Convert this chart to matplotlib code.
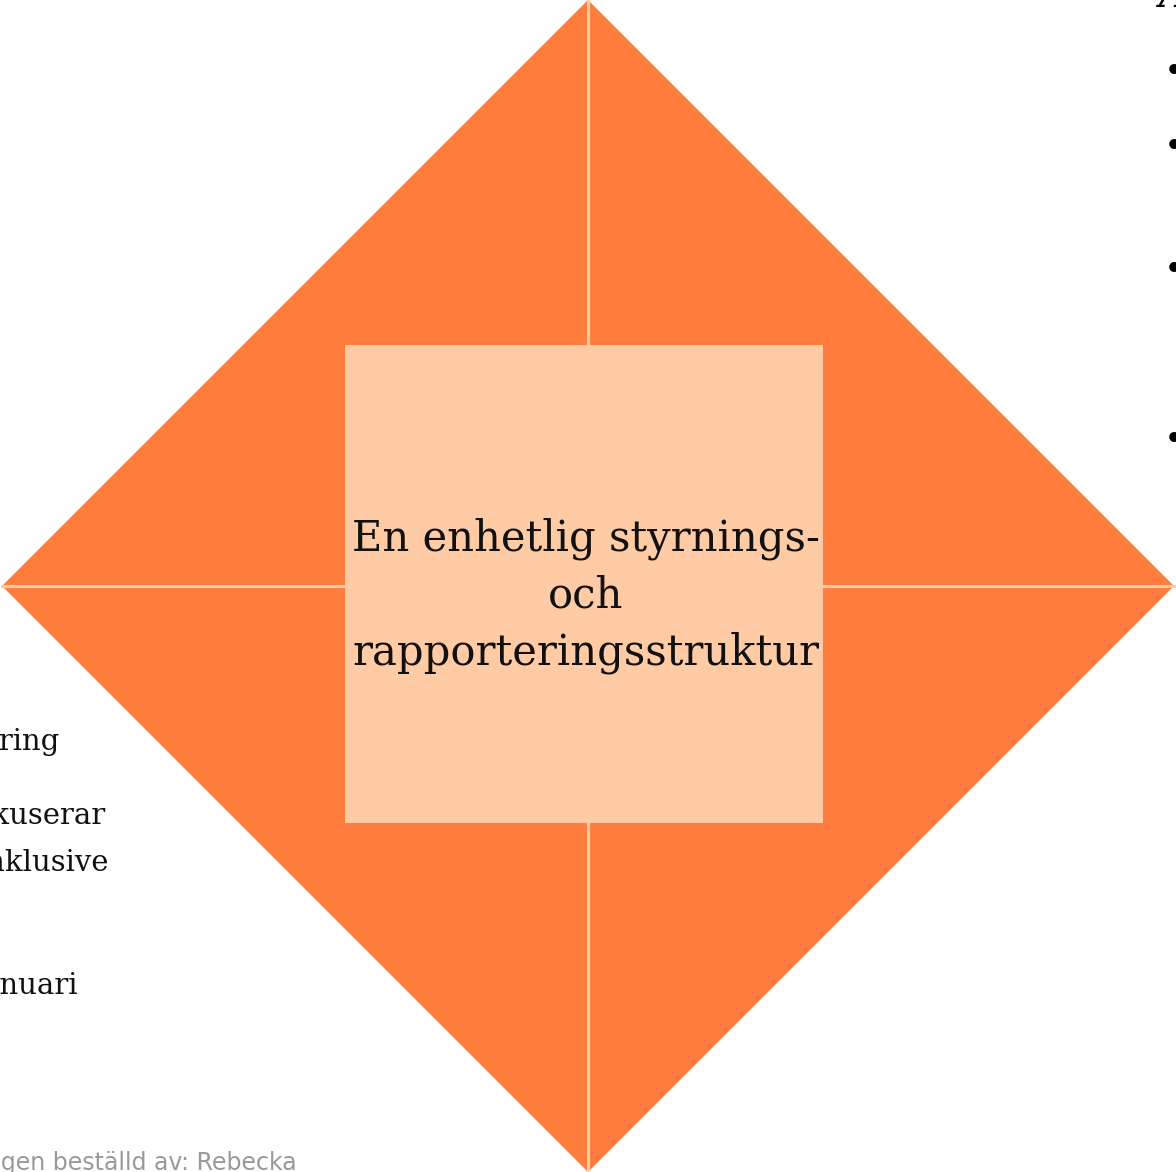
import matplotlib.pyplot as plt
from matplotlib.patches import Polygon, Rectangle

# diagram content
center_lines = ["En enhetlig styrnings-", "och", "rapporteringsstruktur"]
left_words = ["Rapportering", "fokuserar", "inklusive", "januari"]
left_word_end = [60, 105, 108, 78]
left_word_y = [742, 816, 863, 986]
bullet_y = [72, 147, 270, 440]
footer = "Utredningen beställd av: Rebecka"

orange = "#FE7D3D"
peach = "#FFCBA4"
line_col = "#FFC9A2"

W, H = 1176, 1172
fig = plt.figure(figsize=(W / 100, H / 100), dpi=100)
ax = fig.add_axes([0, 0, 1, 1])
ax.set_xlim(0, W)
ax.set_ylim(H, 0)
ax.axis("off")

# diamond geometry
cx, cy = 588, 586
rx, ry = 586, 586
top, bottom = (cx, cy - ry), (cx, cy + ry)
left, right = (cx - rx, cy), (cx + rx, cy)
centre = (cx, cy)

# four quadrant triangles
for a, b in [(top, left), (top, right), (bottom, left), (bottom, right)]:
    ax.add_patch(Polygon([a, b, centre], closed=True, facecolor=orange,
                         edgecolor="none", zorder=1))

# separators
ax.plot([cx, cx], [top[1], bottom[1]], color=line_col, lw=2.2, zorder=2)
ax.plot([left[0], right[0]], [cy, cy], color=line_col, lw=2.2, zorder=2)

# centre square
half = 239
ax.add_patch(Rectangle((584 - half, 584 - half), 2 * half, 2 * half,
                       facecolor=peach, edgecolor="none", zorder=3))

serif = ["DejaVu Serif"]
for i, s in enumerate(center_lines):
    ax.text(586, 539 + i * 57, s, fontsize=30, family=serif, ha="center",
            va="center", color="#111111", zorder=4)

# text cut off at the left edge
for s, x, y in zip(left_words, left_word_end, left_word_y):
    ax.text(x, y, s, fontsize=21, family=serif, ha="right", va="center",
            color="#111111")

# bullets on the right edge
for y in bullet_y:
    ax.text(1164, y, "•", fontsize=25, family=["DejaVu Sans"], ha="left",
            va="center", color="black")
ax.text(1158, 7, "A", fontsize=28, family=serif, weight="bold",
        style="italic", ha="left", va="baseline", color="black")

ax.text(297, 1163, footer, fontsize=17, family=["DejaVu Sans"], ha="right",
        va="center", color="#999999")

fig.savefig("out.png", dpi=100)
